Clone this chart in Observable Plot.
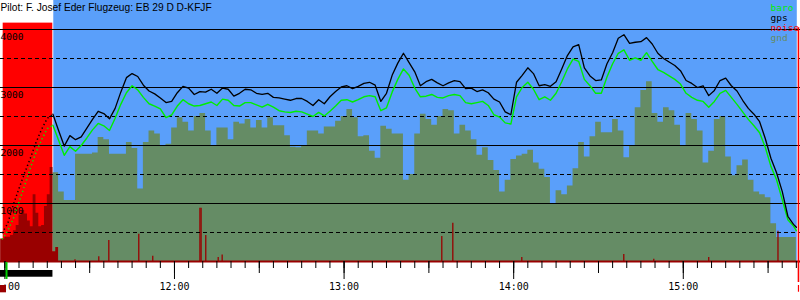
<!DOCTYPE html>
<html><head><meta charset="utf-8">
<script src="https://cdn.jsdelivr.net/npm/d3@7"></script>
<script src="https://cdn.jsdelivr.net/npm/@observablehq/plot@0.6"></script>
<style>
html,body{margin:0;padding:0;background:#fff;}
#chart{width:800px;height:300px;overflow:hidden;}
</style></head><body><div id="chart"></div>
<script>
const title = "Pilot: F. Josef Eder Flugzeug: EB 29 D D-KFJF";
const seriesNames = ["baro", "gps", "noise", "gnd"];
const seriesColors = ["#00ee00", "#000000", "#ff0000", "#658c65"];
const skyColor = "#5a9ffa";
const noiseDark = "#990000";

const times = [
"10:59","11:01","11:03","11:05","11:07","11:09","11:11","11:13","11:15","11:17",
"11:19","11:21","11:23","11:25","11:27","11:29","11:31","11:33","11:35","11:37",
"11:39","11:41","11:43","11:45","11:47","11:49","11:51","11:53","11:55","11:57",
"11:59","12:01","12:03","12:05","12:07","12:09","12:11","12:13","12:15","12:17",
"12:19","12:21","12:23","12:25","12:27","12:29","12:31","12:33","12:35","12:37",
"12:39","12:41","12:43","12:45","12:47","12:49","12:51","12:53","12:55","12:57",
"12:59","13:01","13:03","13:05","13:07","13:09","13:11","13:13","13:15","13:17",
"13:19","13:21","13:23","13:25","13:27","13:29","13:31","13:33","13:35","13:37",
"13:39","13:41","13:43","13:45","13:47","13:49","13:51","13:53","13:55","13:57",
"13:59","14:01","14:03","14:05","14:07","14:09","14:11","14:13","14:15","14:17",
"14:19","14:21","14:23","14:25","14:27","14:29","14:31","14:33","14:35","14:37",
"14:39","14:41","14:43","14:45","14:47","14:49","14:51","14:53","14:55","14:57",
"14:59","15:01","15:03","15:05","15:07","15:09","15:11","15:13","15:15","15:17",
"15:19","15:21","15:23","15:25","15:27","15:29","15:31","15:33","15:35","15:37",
"15:39","15:40"];

const gps = [
490,655,980,1260,1530,1780,2050,2280,2470,2540,
2260,1990,2170,2100,2150,2300,2450,2590,2550,2460,
2640,2920,3170,3240,3190,3040,2940,2890,2820,2740,
2760,2910,3020,2990,2880,2930,2920,2970,2900,2990,
2970,2850,2900,2970,2960,2900,2880,2900,2830,2820,
2800,2780,2810,2810,2760,2690,2790,2720,2840,2930,
3010,3030,2980,3020,3070,3090,3040,2760,2900,3210,
3420,3590,3430,3270,3030,3100,3140,3080,3030,3080,
3120,3100,2980,2990,2930,2960,2910,2800,2750,2580,
2530,3090,3210,3340,3240,3030,3050,3020,3100,3320,
3550,3700,3740,3340,3200,3120,3130,3410,3600,3850,
3910,3760,3780,3790,3860,3750,3590,3500,3440,3380,
3290,3120,3070,3000,3030,2860,2950,3120,3160,3030,
2940,2780,2640,2540,2410,2120,1780,1530,1210,780,
640,590];

const baro = [
380,530,740,1030,1310,1610,1880,2100,2290,2350,
2090,1830,1980,1900,2000,2130,2270,2380,2340,2260,
2470,2710,2910,3030,2960,2830,2720,2680,2630,2480,
2530,2680,2790,2720,2680,2690,2720,2750,2690,2800,
2780,2690,2680,2740,2740,2700,2660,2710,2660,2600,
2580,2570,2590,2580,2540,2500,2570,2510,2590,2680,
2780,2790,2750,2790,2840,2860,2840,2600,2650,2920,
3140,3320,3210,2990,2840,2850,2880,2830,2820,2860,
2880,2860,2740,2720,2740,2760,2690,2530,2490,2390,
2370,2840,3000,3090,2970,2790,2840,2780,2900,3100,
3320,3490,3450,3140,3030,2900,2900,3180,3410,3590,
3650,3470,3510,3470,3600,3450,3310,3260,3200,3140,
3060,2900,2830,2780,2760,2660,2760,2900,2950,2830,
2710,2580,2450,2340,2220,1970,1640,1410,1070,720,
610,530];

const gnd = [
null,null,null,null,null,null,null,null,null,1530,
1200,1050,1050,1850,1850,1850,1870,2140,2100,1850,
1850,1850,2050,1950,1250,2050,2250,2200,2000,2020,
2300,2480,2400,2250,2500,2550,2250,2000,2300,2300,
2100,2400,2370,2450,2300,2430,2300,2480,2340,2340,
2170,1970,1960,1990,2250,2250,2200,2320,2320,2420,
2500,2620,2480,2150,2170,1900,1780,2330,2280,2200,
2200,1400,1500,2200,2540,2450,2350,2500,2620,2600,
2200,2350,2250,2100,1830,1960,1740,1570,1200,1400,
1760,1820,1850,1920,1700,1590,1450,1000,1220,1150,
1300,1600,2050,1800,2150,2400,2220,2220,2450,2250,
1790,2000,2650,2950,3100,2550,2400,2650,2600,2350,
2000,2550,2450,2250,1700,1900,2450,2500,1800,1480,
1650,1750,1400,1200,1150,1100,650,414,414,414,
414,414];

const towNoiseTimes = ["10:58:30","11:00","11:01","11:02","11:03","11:04","11:05","11:06","11:07","11:08","11:09","11:10","11:11","11:12","11:13","11:14","11:15","11:16","11:17","11:18","11:19"];
const towNoise = [390,420,420,450,530,620,800,880,820,700,600,1150,830,600,620,950,1150,1620,170,240,0];

const spikeTimes = ["11:24:48","11:33:13","11:36:46","11:47:22","11:52:19","12:09:00","12:09:25","12:11:04","12:15:28","12:16:52","13:34:34","13:38:28","14:02:52","14:38:57","14:49:34","15:09:00","15:33:30"];
const spikeNoise = [30,80,360,470,90,920,920,450,70,110,430,660,70,120,40,70,520];

const solidGrid = [1000, 2000, 3000, 4000];
const dashedGrid = [500, 1500, 2500, 3500];
const yLabels = [1000, 2000, 3000, 4000];

const domainStart = "10:58:27", domainEnd = "15:41:28";
const releaseTime = "11:17";
const towStart = "10:59:24", towEnd = "11:16:57", skyStart = "11:17:18", skyEnd = "15:40:20", landMark = "15:40:45";

const parse = s => d3.utcParse(s.length > 5 ? "%H:%M:%S" : "%H:%M")(s);

const flight = times.map((s, i) => ({t: parse(s), gps: gps[i], baro: baro[i], gnd: gnd[i]}));
const rel = parse(releaseTime);
const tow = flight.filter(d => d.t <= rel);
const free = flight.filter(d => d.t >= rel);
const towNoiseData = towNoiseTimes.map((s, i) => ({t: parse(s), v: towNoise[i]}));
const spikeData = spikeTimes.map((s, i) => ({t: parse(s), v: spikeNoise[i]}));
const x0 = parse(domainStart), x1 = parse(domainEnd);

const skyRect = [{a: parse(skyStart), b: parse(skyEnd), lo: 0, hi: 4500}];
const towRect = [{a: parse(towStart), b: parse(towEnd), lo: 0, hi: 4110}];
const towBar = [{a: x0, b: parse("11:17:00"), lo: -155, hi: -271}];
const startSquare = [{a: x0, b: parse("11:00:34"), lo: -414, hi: -540}];
const startMark = [{t: parse("11:00:35"), lo: -17, hi: -310}];
const landLine = [{t: parse(landMark), lo: -362, hi: 4030}];
const landTick = [{t: parse(landMark), lo: -414, hi: -530}];

const minorTicks = d3.utcMinute.every(5).range(x0, x1);
const halfTicks = d3.utcMinute.every(30).range(x0, x1);
const hourTicks = d3.utcHour.range(x0, x1);
const fmt = d3.utcFormat("%H:%M");
const mono = "'DejaVu Sans Mono', monospace";

const legendMarks = seriesNames.map((name, k) => Plot.text([name], {
  text: d => d, frameAnchor: "top-left", textAnchor: "start", lineAnchor: "bottom",
  dx: 770, dy: [10, 20, 30.5, 40][k], fill: seriesColors[k], fontSize: 9.5, fontFamily: mono
}));

const chart = Plot.plot({
  width: 800, height: 300,
  marginTop: 0, marginLeft: 0, marginRight: 0, marginBottom: 39,
  style: {fontFamily: mono, fontSize: "10px", background: "#fff", color: "#000"},
  x: {type: "utc", domain: [x0, x1], range: [0, 800], label: null},
  y: {domain: [0, 4500], axis: null, label: null},
  marks: [
    Plot.rect(skyRect, {x1: "a", x2: "b", y1: "lo", y2: "hi", fill: skyColor}),
    Plot.rect(towRect, {x1: "a", x2: "b", y1: "lo", y2: "hi", fill: "#ff0000"}),
    Plot.areaY(free, {x: "t", y: "gnd", curve: "step-after", fill: seriesColors[3]}),
    Plot.areaY(towNoiseData, {x: "t", y: "v", curve: "step-after", fill: noiseDark}),
    Plot.ruleX(spikeData, {x: "t", y1: 0, y2: "v", stroke: noiseDark, strokeWidth: 1.3}),
    Plot.ruleY([0], {stroke: noiseDark, strokeWidth: 2}),
    Plot.ruleY(solidGrid, {stroke: "#000", strokeWidth: 1}),
    Plot.ruleY(dashedGrid, {stroke: "#000", strokeWidth: 1, strokeDasharray: "4,3"}),
    Plot.text(yLabels, {y: d => d, text: d => String(d), frameAnchor: "left", textAnchor: "start", lineAnchor: "bottom", dy: 10.5, fontSize: 9.5, fill: "#000"}),
    Plot.lineY(tow, {x: "t", y: "baro", stroke: seriesColors[0], strokeWidth: 1.5, strokeDasharray: "1.3,2.7", strokeLinecap: "butt"}),
    Plot.lineY(free, {x: "t", y: "baro", stroke: seriesColors[0], strokeWidth: 1.4}),
    Plot.lineY(tow, {x: "t", y: "gps", stroke: seriesColors[1], strokeWidth: 1.5, strokeDasharray: "1.3,2.7", strokeLinecap: "butt"}),
    Plot.lineY(free, {x: "t", y: "gps", stroke: seriesColors[1], strokeWidth: 1.3}),
    Plot.text([title], {text: d => d, frameAnchor: "top-left", textAnchor: "start", lineAnchor: "bottom", dy: 10, fontSize: 10.2, fontFamily: "'Liberation Sans', Arial, sans-serif", fill: "#000"}),
    ...legendMarks,
    Plot.ruleX(landLine, {x: "t", y1: "lo", y2: "hi", stroke: "#ff0000", strokeWidth: 1.6}),
    Plot.ruleX(landTick, {x: "t", y1: "lo", y2: "hi", stroke: "#ff0000", strokeWidth: 1.2}),
    Plot.axisX(minorTicks, {tickSize: 7, tickFormat: () => "", label: null}),
    Plot.axisX(halfTicks, {tickSize: 12, tickFormat: () => "", label: null}),
    Plot.axisX(hourTicks, {tickSize: 18, tickPadding: 3, tickFormat: fmt, fontSize: 10, label: null}),
    Plot.rect(towBar, {x1: "a", x2: "b", y1: "lo", y2: "hi", fill: "#000"}),
    Plot.rect(startSquare, {x1: "a", x2: "b", y1: "lo", y2: "hi", fill: noiseDark}),
    Plot.ruleX(startMark, {x: "t", y1: "lo", y2: "hi", stroke: "#00cc00", strokeWidth: 2})
  ]
});
document.getElementById("chart").append(chart);
</script></body></html>
